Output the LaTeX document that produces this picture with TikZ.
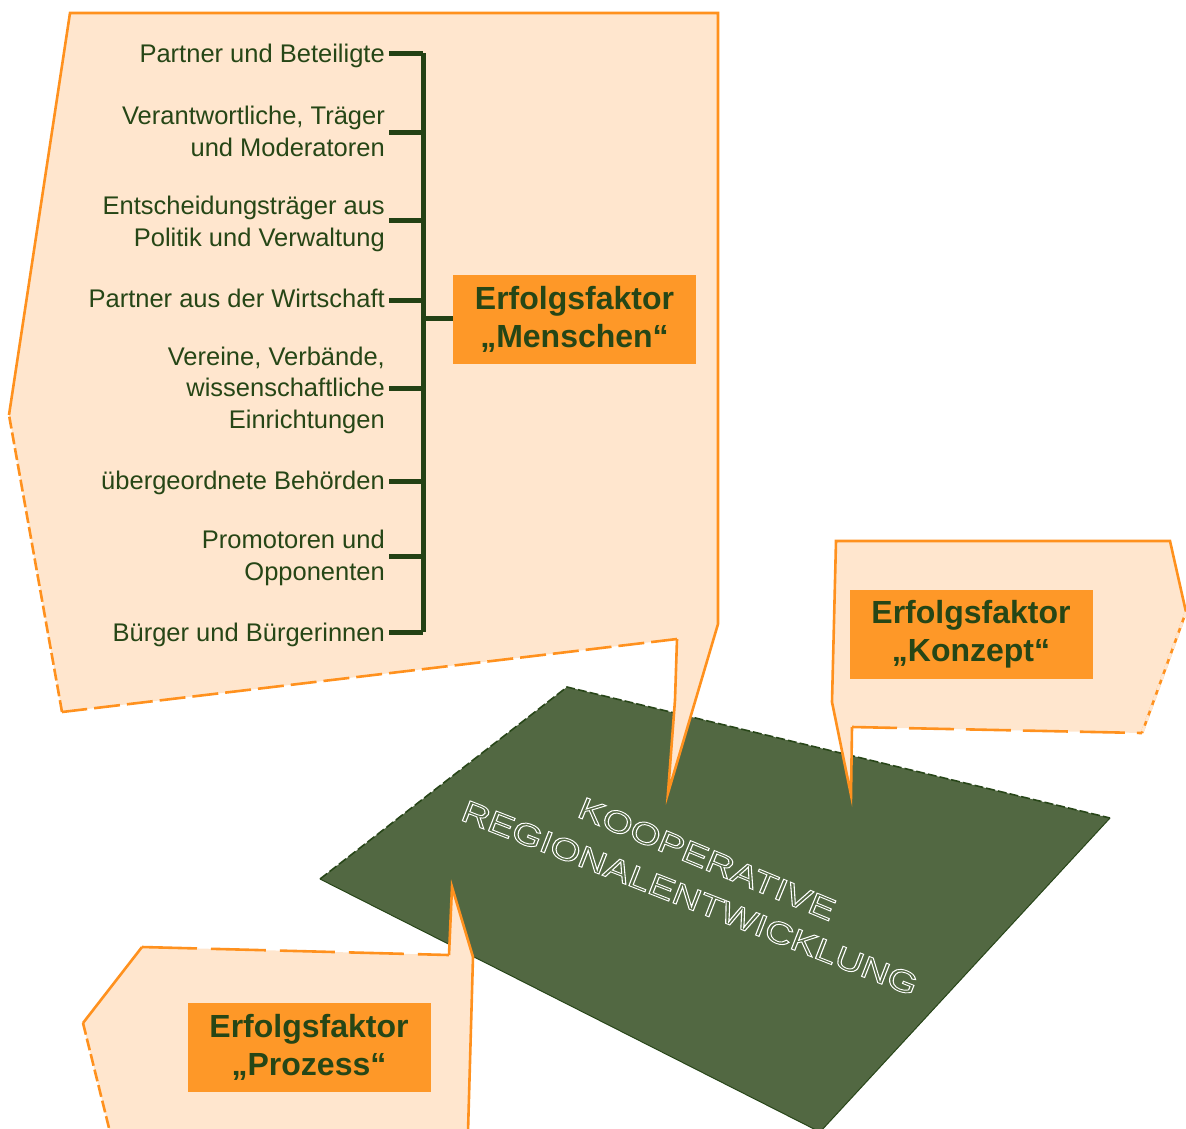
\documentclass[tikz,border=0pt]{standalone}
\usepackage{fontspec}
\setmainfont{Liberation Sans}
\definecolor{peach}{RGB}{255,230,206}
\definecolor{corange}{RGB}{255,145,30}
\definecolor{boxorange}{RGB}{254,152,40}
\definecolor{dkgreen}{RGB}{38,70,22}
\definecolor{bargreen}{RGB}{35,65,20}
\definecolor{boardfill}{RGB}{82,104,66}
\definecolor{boardedge}{RGB}{40,70,25}
\begin{document}
\begin{tikzpicture}[x=1pt,y=-1pt,
  cfill/.style={fill=peach,draw=none},
  cbord/.style={draw=corange,line width=2.6pt,line join=miter},
  cdash/.style={cbord,dash pattern=on 26pt off 7pt},
  cshort/.style={cbord,dash pattern=on 12pt off 4pt},
  cdot/.style={cbord,line width=2pt,dash pattern=on 3pt off 4pt},
  listtext/.style={anchor=base east,inner sep=0pt,align=right,text=dkgreen,
    font=\fontsize{25.5}{31.5}\selectfont},
  fbox/.style={fill=boxorange,inner sep=0pt,align=center,text=dkgreen,
    minimum width=243pt,minimum height=89pt,
    font=\fontsize{32}{37.5}\selectfont\bfseries},
  bar/.style={draw=bargreen,line width=5pt},
  boardtext/.style={text=white,inner sep=0pt,font=\fontsize{31}{31}\selectfont},
]
\useasboundingbox (0,0) rectangle (1186,1128);

% ---------- board ----------
\coordinate (bt) at (567,687);
\coordinate (br) at (1110,818);
\coordinate (bb) at (820,1132);
\coordinate (bl) at (320,879);
\fill[boardfill] (bt) -- (br) -- (bb) -- (bl) -- cycle;
\draw[boardedge,line width=1.6pt,dash pattern=on 9pt off 3pt] (bl) -- (bt) -- (br);
\draw[boardedge,line width=1pt] (br) -- (bb) (bl) -- (bb);

\node[boardtext,rotate=-22.5,xscale=1.25] (koop) at (707,859)
  {\special{pdf:literal direct 1 Tr 0.9 w}KOOPERATIVE\special{pdf:literal direct 0 Tr}};
\node[boardtext,rotate=-21.3,xscale=1.25] (regio) at (690,898)
  {\special{pdf:literal direct 1 Tr 0.9 w}REGIONALENTWICKLUNG\special{pdf:literal direct 0 Tr}};

% ---------- main callout (Menschen) ----------
\coordinate (mA) at (70,13);
\coordinate (mB) at (718,13);
\coordinate (mC) at (718,624);
\coordinate (mT) at (668,793);
\coordinate (mD2) at (675,700);
\coordinate (mD) at (677,639);
\coordinate (mE) at (62,712);
\coordinate (mF) at (9,415);
\fill[cfill] (mA) -- (mB) -- (mC) -- (mT) -- (mD2) -- (mD) -- (mE) -- (mF) -- cycle;
\draw[cbord] (mF) -- (mA) -- (mB) -- (mC) -- (mT) -- (mD2) -- (mD);
\draw[cdash] (mD) -- (mE);
\draw[cshort] (mE) -- (mF);

% ---------- Konzept callout ----------
\coordinate (kA) at (836,541);
\coordinate (kB) at (1170,541);
\coordinate (kR) at (1186,612);
\coordinate (kC) at (1142,733);
\coordinate (kD) at (852,727);
\coordinate (kT) at (851,795);
\coordinate (kL) at (832,702);
\fill[cfill] (kA) -- (kB) -- (kR) -- (kC) -- (kD) -- (kT) -- (kL) -- cycle;
\draw[cbord] (kC) -- (kR) -- (kB) -- (kA) -- (kL) -- (kT) -- (kD);
\draw[cdash,dash pattern=on 45pt off 12pt] (kD) -- (kC);
\draw[cdot,draw=peach,line width=3pt,dash pattern=on 6pt off 5pt] (kR) -- (kC);

% ---------- Prozess callout ----------
\coordinate (pA) at (142,947);
\coordinate (pD) at (449,955);
\coordinate (pT) at (452,887);
\coordinate (pE) at (473,957);
\coordinate (pF) at (468,1132);
\coordinate (pG) at (110,1132);
\coordinate (pL) at (83,1023);
\fill[cfill] (pA) -- (pD) -- (pT) -- (pE) -- (pF) -- (pG) -- (pL) -- cycle;
\draw[cdash,dash pattern=on 55pt off 14pt] (pA) -- (pD);
\draw[cbord] (pD) -- (pT) -- (pE) -- (pF);
\draw[cbord] (pL) -- (pA);
\draw[cshort] (pL) -- (pG);

% ---------- factor boxes ----------
\node[fbox] (men) at (574.5,319.5) {Erfolgsfaktor\\„Menschen“};
\node[fbox] (kon) at (971,634) {Erfolgsfaktor\\„Konzept“};
\node[fbox] (pro) at (309,1047.5) {Erfolgsfaktor\\„Prozess“};

% ---------- list (base anchor = last line) ----------
\node[listtext] (l1) at (385,62) {Partner und Beteiligte};
\node[listtext] (l2) at (385,156) {Verantwortliche, Träger\\und Moderatoren};
\node[listtext] (l3) at (385,246) {Entscheidungsträger aus\\Politik und Verwaltung};
\node[listtext] (l4) at (385,307) {Partner aus der Wirtschaft};
\node[listtext] (l5) at (385,428) {Vereine, Verbände,\\wissenschaftliche\\Einrichtungen};
\node[listtext] (l6) at (385,489) {übergeordnete Behörden};
\node[listtext] (l7) at (385,580) {Promotoren und\\Opponenten};
\node[listtext] (l8) at (385,641) {Bürger und Bürgerinnen};

% ---------- bracket ----------
\coordinate (bartop) at (423,53);
\coordinate (barbot) at (423,632);
\coordinate (barmid) at (423,318);
\draw[bar] (bartop) -- (barbot);
\foreach \i/\y in {1/53,2/132,3/220,4/300,5/388,6/481,7/556,8/632}{
  \coordinate (k\i) at (389,\y);
  \draw[bar,line cap=butt] (k\i) -- (k\i -| bartop);
}
\draw[bar] (barmid) -- (barmid -| men.west);
\end{tikzpicture}
\end{document}
